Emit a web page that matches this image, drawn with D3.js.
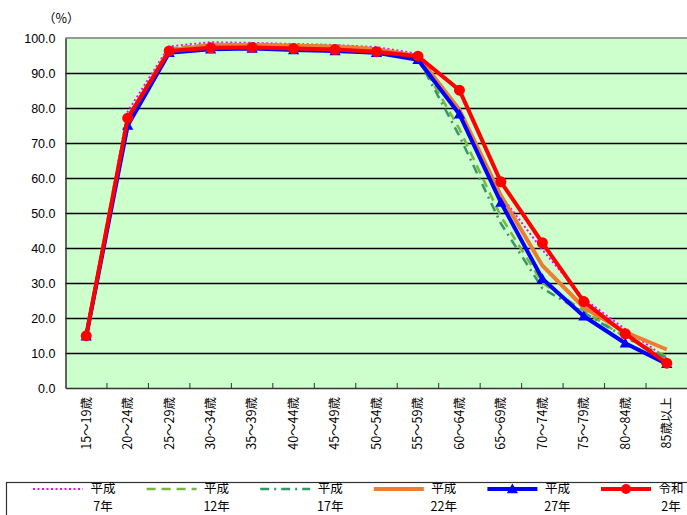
<!DOCTYPE html>
<html><head><meta charset="utf-8">
<script src="https://cdn.jsdelivr.net/npm/d3@7"></script>
<style>
body{margin:0;background:#fff;}
svg{display:block;font-family:"Liberation Sans","Noto Sans CJK JP",sans-serif;}
</style></head>
<body><svg id="c" width="687" height="515"></svg>
<script>
const categories = ["15～19歳","20～24歳","25～29歳","30～34歳","35～39歳","40～44歳","45～49歳","50～54歳","55～59歳","60～64歳","65～69歳","70～74歳","75～79歳","80～84歳","85歳以上"];
const h7  = [15.5, 79.0, 97.6, 98.8, 98.6, 98.3, 98.0, 97.4, 95.5, 78.8, 55.0, 39.5, 25.5, 16.8, 8.5];
const h12 = [15.2, 77.5, 97.0, 98.3, 98.3, 98.0, 97.8, 97.0, 94.5, 74.0, 49.0, 30.0, 22.0, 14.5, 9.0];
const h17 = [15.0, 77.0, 96.8, 98.0, 98.1, 97.9, 97.6, 96.8, 94.2, 72.0, 47.0, 28.5, 21.5, 14.5, 8.5];
const h22 = [15.0, 76.5, 96.5, 97.9, 98.0, 97.8, 97.6, 96.8, 94.8, 79.5, 55.0, 35.0, 23.0, 16.0, 11.0];
const h27 = [14.8, 75.0, 95.8, 96.8, 97.0, 96.6, 96.3, 95.8, 93.8, 78.2, 53.0, 31.2, 20.5, 12.8, 6.9];
const r2  = [14.9, 77.1, 96.3, 97.2, 97.3, 97.0, 96.7, 96.1, 94.8, 85.1, 58.9, 41.5, 24.7, 15.5, 7.1];
const yTicks = [0,10,20,30,40,50,60,70,80,90,100];
const legendTop = ["平成","平成","平成","平成","平成","令和"];
const legendBottom = ["7年","12年","17年","22年","27年","2年"];

const series = [
  {data:h7,  color:"#FF00FF", width:2,   dash:"2,2.5", marker:null},
  {data:h12, color:"#77B843", width:2.5, dash:"9,6",   marker:null},
  {data:h17, color:"#339966", width:2.5, dash:"9,5,2,5", marker:null},
  {data:h22, color:"#ED7D31", width:4,   dash:null,    marker:null},
  {data:h27, color:"#0000FF", width:4,   dash:null,    marker:"tri"},
  {data:r2,  color:"#FF0000", width:4,   dash:null,    marker:"circle"}
];

const svg = d3.select("#c");
const L=65.5, R=687.5, T=38, B=388;
const x = d3.scaleBand().domain(categories).range([L,R]).padding(0);
const y = d3.scaleLinear().domain([0,100]).range([B,T]);

svg.append("rect").attr("x",L).attr("y",T).attr("width",R-L).attr("height",B-T).attr("fill","#CCFFCC");

// grid
svg.append("g").selectAll("line").data(yTicks.filter(d=>d>0&&d<100)).join("line")
  .attr("x1",L).attr("x2",R).attr("y1",d=>Math.round(y(d))+0.5).attr("y2",d=>Math.round(y(d))+0.5)
  .attr("stroke","#000").attr("stroke-width",1.3);
// top border
svg.append("line").attr("x1",L).attr("x2",R).attr("y1",T).attr("y2",T).attr("stroke","#999").attr("stroke-width",2);

// y axis
const ya = svg.append("g").attr("transform",`translate(${L},0)`)
  .call(d3.axisLeft(y).tickValues(yTicks).tickFormat(d3.format(".1f")).tickSize(0).tickPadding(10));
ya.select(".domain").attr("stroke","#333").attr("stroke-width",1.5);
ya.selectAll("text").attr("font-size",12.5).attr("fill","#000").attr("font-family","Liberation Sans, Arial, sans-serif");

// x axis
const xa = svg.append("g").attr("transform",`translate(0,${B})`)
  .call(d3.axisBottom(x).tickSize(0).tickPadding(0));
xa.select(".domain").attr("stroke","#333").attr("stroke-width",1.5);
xa.selectAll("text").attr("font-size",12.5).attr("fill","#000")
  .attr("font-family","Noto Sans CJK JP, sans-serif")
  .attr("transform",`translate(0,9) rotate(-90)`)
  .attr("text-anchor","end").attr("dy","0.35em").attr("dx","0");
// inside ticks at band boundaries
svg.append("g").selectAll("line").data(categories.slice(1)).join("line")
  .attr("x1",d=>x(d)).attr("x2",d=>x(d)).attr("y1",B).attr("y2",B-5)
  .attr("stroke","#333").attr("stroke-width",1);

svg.append("text").attr("x",43).attr("y",23).attr("font-size",12.5)
  .attr("font-family","Noto Sans CJK JP, sans-serif").text("（%）");

const cx = i => x(categories[i]) + x.bandwidth()/2;
const line = d3.line().x((d,i)=>cx(i)).y(d=>y(d));
const tri = d3.symbol().type(d3.symbolTriangle).size(55);

series.forEach(s=>{
  svg.append("path").attr("d",line(s.data)).attr("fill","none")
    .attr("stroke",s.color).attr("stroke-width",s.width)
    .attr("stroke-dasharray",s.dash).attr("stroke-linejoin","round");
  if(s.marker==="tri"){
    svg.append("g").selectAll("path").data(s.data).join("path")
      .attr("d",tri).attr("transform",(d,i)=>`translate(${cx(i)},${y(d)+1})`).attr("fill",s.color);
  } else if(s.marker==="circle"){
    svg.append("g").selectAll("circle").data(s.data).join("circle")
      .attr("cx",(d,i)=>cx(i)).attr("cy",d=>y(d)).attr("r",5.5).attr("fill",s.color);
  }
});

// legend
svg.append("rect").attr("x",6.5).attr("y",482.5).attr("width",700).attr("height",60)
  .attr("fill","#fff").attr("stroke","#333").attr("stroke-width",1.2);
series.forEach((s,i)=>{
  const x0 = 33 + i*113.6, ly = 489;
  const g = svg.append("g");
  g.append("line").attr("x1",x0).attr("x2",x0+50).attr("y1",ly).attr("y2",ly)
    .attr("stroke",s.color).attr("stroke-width",s.width).attr("stroke-dasharray",s.dash);
  if(s.marker==="tri") g.append("path").attr("d",tri).attr("transform",`translate(${x0+25},${ly+1})`).attr("fill",s.color);
  if(s.marker==="circle") g.append("circle").attr("cx",x0+25).attr("cy",ly).attr("r",5).attr("fill",s.color);
  const tx = x0 + 70;
  g.append("text").attr("x",tx).attr("y",ly+3.5).attr("text-anchor","middle").attr("font-size",12.5)
    .attr("font-family","Noto Sans CJK JP, sans-serif").text(legendTop[i]);
  g.append("text").attr("x",tx).attr("y",ly+22).attr("text-anchor","middle").attr("font-size",12.5)
    .attr("font-family","Noto Sans CJK JP, sans-serif").text(legendBottom[i]);
});
</script></body></html>
